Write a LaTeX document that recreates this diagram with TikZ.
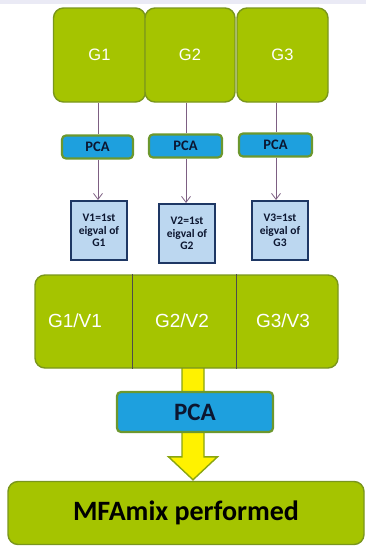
\documentclass[tikz,border=0pt]{standalone}
\usepackage{fontspec}
\setmainfont{Carlito}
\newfontfamily\arialfont{Liberation Sans}
\usetikzlibrary{arrows.meta,calc,backgrounds}

\definecolor{leaf}{RGB}{165,196,0}
\definecolor{leafedge}{RGB}{122,150,28}
\definecolor{sky}{RGB}{30,160,222}
\definecolor{skyedge}{RGB}{108,152,46}
\definecolor{pale}{RGB}{188,215,240}
\definecolor{navy}{RGB}{30,55,100}
\definecolor{plum}{RGB}{125,95,130}
\definecolor{band}{RGB}{234,234,245}
\definecolor{ink}{RGB}{12,22,48}
\definecolor{yeledge}{RGB}{138,165,16}

\begin{document}
\begin{tikzpicture}[x=1pt,y=-1pt,
    grp/.style={draw=leafedge,fill=leaf,line width=1.4pt,rounded corners=10pt,
      minimum width=92pt,minimum height=94pt,text=white,
      font=\arialfont\fontsize{16.5}{19}\selectfont},
    pca/.style={draw=skyedge,fill=sky,line width=2.2pt,rounded corners=4pt,
      minimum width=71pt,minimum height=23pt,text=ink,
      font=\bfseries\fontsize{14.5}{16}\selectfont},
    eig/.style={draw=navy,fill=pale,line width=2pt,inner sep=1pt,
      minimum width=56pt,minimum height=59pt,align=center,text=ink,
      font=\bfseries\fontsize{11.5}{12.5}\selectfont},
    part/.style={text=white,font=\arialfont\fontsize{19}{22}\selectfont},
    link/.style={plum,line width=0.8pt},
    bigarrow/.style={fill=yellow,draw=yeledge,line width=1.4pt,line join=miter}]
  \useasboundingbox (0,0) rectangle (366,546);
  \fill[band] (0,0) rectangle (366,3.5);

  % --- the three groups, one PCA each
  \node[grp] (g1) at (99.5,55) {G1};
  \node[grp,minimum width=90pt] (g2) at (190,55) {G2};
  \node[grp,minimum width=91pt] (g3) at (282.5,55) {G3};
  \node[pca] (p1) at (97.5,147) {PCA};
  \node[pca,minimum width=73pt] (p2) at (185.5,146) {PCA};
  \node[pca,minimum width=73pt] (p3) at (275.5,145) {PCA};
  \node[eig] (v1) at (99,230.5) {V1=1st\\eigval of\\G1};
  \node[eig] (v2) at (187,233.5) {V2=1st\\eigval of\\G2};
  \node[eig] (v3) at (280,230.5) {V3=1st\\eigval of\\G3};
  \foreach \i/\x in {1/98,2/186,3/276}
    {\draw[link] (\x,0 |- g\i.south) -- (\x,0 |- p\i.north);
     \draw[link,-{Straight Barb[length=6pt,width=9pt]}] (\x,0 |- p\i.south) -- (\x,0 |- v\i.north);}

  % --- weighted groups side by side
  \node[grp,minimum width=303pt,minimum height=93pt] (mix) at (186.5,321.5) {};
  \draw[black!70,line width=0.6pt] ($(mix.north west)+(98,0)$) -- ($(mix.south west)+(98,0)$);
  \draw[black!70,line width=0.6pt] ($(mix.north west)+(202,0)$) -- ($(mix.south west)+(202,0)$);
  \node[part] (s1) at (75,321) {G1/V1};
  \node[part] (s2) at (182,321) {G2/V2};
  \node[part] (s3) at (283,321) {G3/V3};

  % --- global PCA and final step
  \node[pca,minimum width=156pt,minimum height=40pt,
    font=\bfseries\fontsize{25}{28}\selectfont] (pall) at (195,412) {PCA};
  \node[grp,minimum width=356pt,minimum height=63pt,text=black,
    font=\bfseries\fontsize{28}{32}\selectfont] (final) at (186,513) {MFAmix performed};
  \coordinate (tip) at ($(final.north)+(7,-1)$);
  \begin{scope}[on background layer]
    \draw[bigarrow] ($(tip |- mix.south)+(-11,-3)$) -- ($(tip)+(-11,-23)$)
      -- ($(tip)+(-24.5,-23)$) -- (tip) -- ($(tip)+(24.5,-23)$)
      -- ($(tip)+(11,-23)$) -- ($(tip |- mix.south)+(11,-3)$);
  \end{scope}
\end{tikzpicture}
\end{document}
